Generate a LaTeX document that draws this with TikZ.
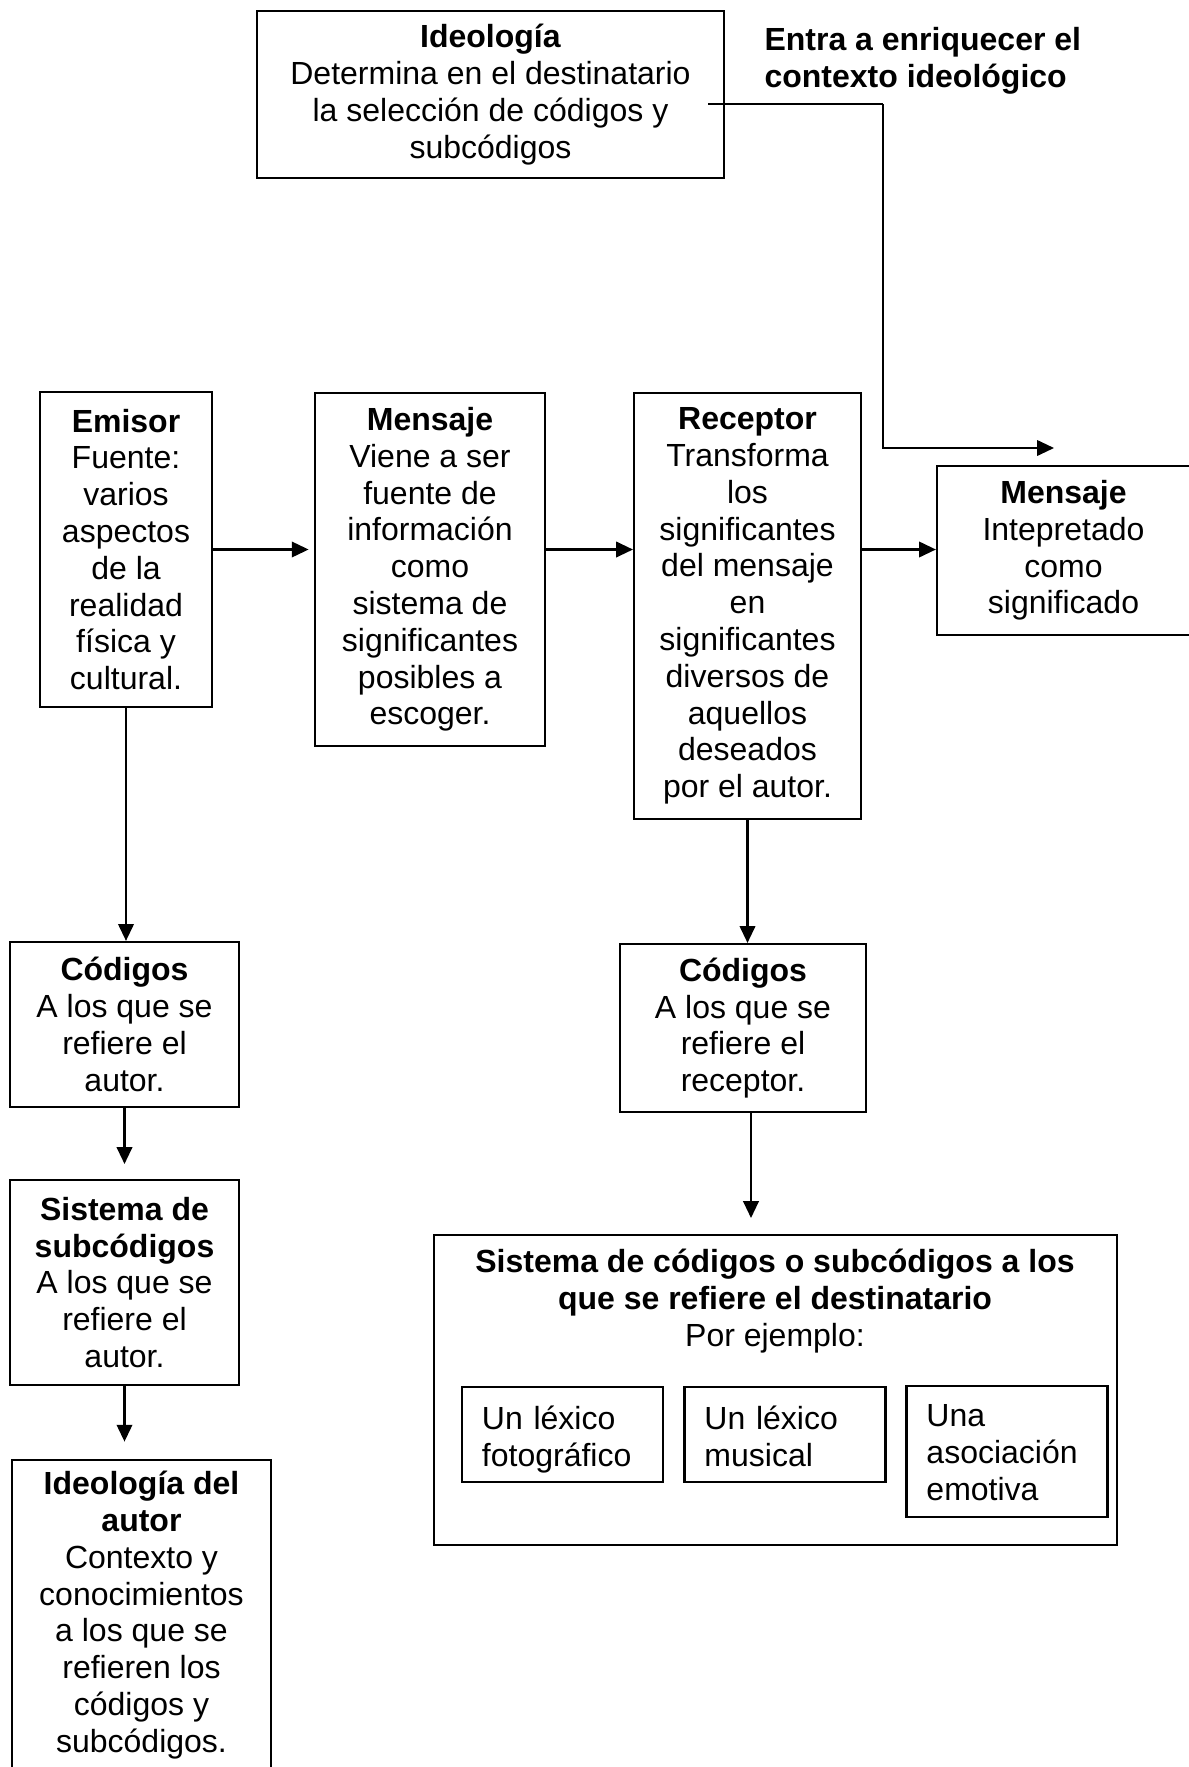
\documentclass[tikz,border=0pt]{standalone}
\usepackage{fontspec}
\setmainfont{Liberation Sans}
\usetikzlibrary{arrows.meta}
\begin{document}
\begin{tikzpicture}[x=0.375pt,y=-0.375pt,
  box/.style={draw,line width=0.8pt,rectangle,inner sep=0pt,align=center,
    font=\fontsize{12pt}{13.8pt}\selectfont},
  lbox/.style={draw,line width=0.8pt,rectangle,inner xsep=7.5pt,inner ysep=0pt,
    align=left,text width=60.4pt,font=\fontsize{12pt}{13.8pt}\selectfont},
  plain/.style={inner sep=0pt,font=\fontsize{12pt}{13.8pt}\selectfont},
  arr/.style={line width=0.8pt,-{Triangle[length=6.3pt,width=5.8pt]}},
]
\useasboundingbox (0,0) rectangle (1188,1767);

% top
\node[box,minimum width=175.1pt,minimum height=62.6pt] (ideo) at (490.5,94.5)
  {\textbf{Ideología}\\Determina en el destinatario\\la selección de códigos y\\subcódigos};
\node[plain,anchor=west,align=left] (entra) at (764,61)
  {\textbf{Entra a enriquecer el}\\\textbf{contexto ideológico}};

% middle row
\node[box,minimum width=64.5pt,minimum height=118.1pt] (emisor) at (126,549.5)
  {\textbf{Emisor}\\Fuente:\\varios\\aspectos\\de la\\realidad\\física y\\cultural.};
\node[box,minimum width=86.25pt,minimum height=132.4pt] (mens1) at (430,569.5)
  {\textbf{Mensaje}\\Viene a ser\\fuente de\\información\\como\\sistema de\\significantes\\posibles a\\escoger.};
\node[box,minimum width=85.1pt,minimum height=159.75pt] (recep) at (747.5,606)
  {\textbf{Receptor}\\Transforma\\los\\significantes\\del mensaje\\en\\significantes\\diversos de\\aquellos\\deseados\\por el autor.};
\node[box,minimum width=94.9pt,minimum height=63.4pt] (mens2) at (1063.5,550.5)
  {\textbf{Mensaje}\\Intepretado\\como\\significado};

% left column
\node[box,minimum width=85.9pt,minimum height=61.9pt] (codL) at (124.5,1024.5)
  {\textbf{Códigos}\\A los que se\\refiere el\\autor.};
\node[box,minimum width=85.9pt,minimum height=76.9pt] (sisL) at (124.5,1282.5)
  {\textbf{Sistema de}\\\textbf{subcódigos}\\A los que se\\refiere el\\autor.};
\node[box,minimum width=97.1pt,minimum height=116.25pt] (ideoA) at (141.5,1615)
  {\textbf{Ideología del}\\\textbf{autor}\\Contexto y\\conocimientos\\a los que se\\refieren los\\códigos y\\subcódigos.};

% right column
\node[box,minimum width=92.25pt,minimum height=63pt] (codR) at (743,1028)
  {\textbf{Códigos}\\A los que se\\refiere el\\receptor.};
\node[box,minimum width=256.1pt,minimum height=116.25pt] (big) at (775.5,1390) {};
\node[plain,align=center] (bigtitle) at (775,1301)
  {\textbf{Sistema de códigos o subcódigos a los}\\\textbf{que se refiere el destinatario}\\Por ejemplo:};
\node[lbox,minimum height=35.6pt] (b1) at (562.5,1434.5) {\rule{0pt}{14.2pt}Un léxico\\fotográfico\strut};
\node[lbox,minimum height=35.6pt] (b2) at (785,1434.5) {\rule{0pt}{14.2pt}Un léxico\\musical\strut};
\node[lbox,minimum height=49.1pt] (b3) at (1007,1451.5) {\rule{0pt}{13pt}Una\\asociación\\emotiva\strut};

% connectors
\coordinate (tA) at (708,104);
\coordinate (tB) at (743,104);
\coordinate (cn) at (883,104);
\coordinate (cs) at (883,448);
\coordinate (tip) at (1054,448);
\draw[line width=0.7pt] (tA) -- (tB);
\draw[line width=0.4pt] (tB) -- (cn);
\draw[line width=0.7pt,line join=miter,-{Triangle[length=6.3pt,width=5.8pt]}] (cn) -- (cs) -- (tip);

\draw[arr,shorten >=2pt] (emisor.east) -- (emisor.east -| mens1.west);
\draw[arr] (mens1.east |- emisor.east) -- (recep.west |- emisor.east);
\draw[arr] (recep.east |- emisor.east) -- (mens2.west |- emisor.east);

\draw[arr] (emisor.south) -- (emisor.south |- codL.north);
\draw[arr,shorten >=5.6pt] (codL.south) -- (sisL.north);
\draw[arr,shorten >=6.5pt] (sisL.south) -- (sisL.south |- ideoA.north);

\draw[arr] (recep.south) -- (recep.south |- codR.north);
\coordinate (c2) at (751,1112);
\coordinate (c3) at (751,1218);
\draw[arr] (c2) -- (c3);
\end{tikzpicture}
\end{document}
